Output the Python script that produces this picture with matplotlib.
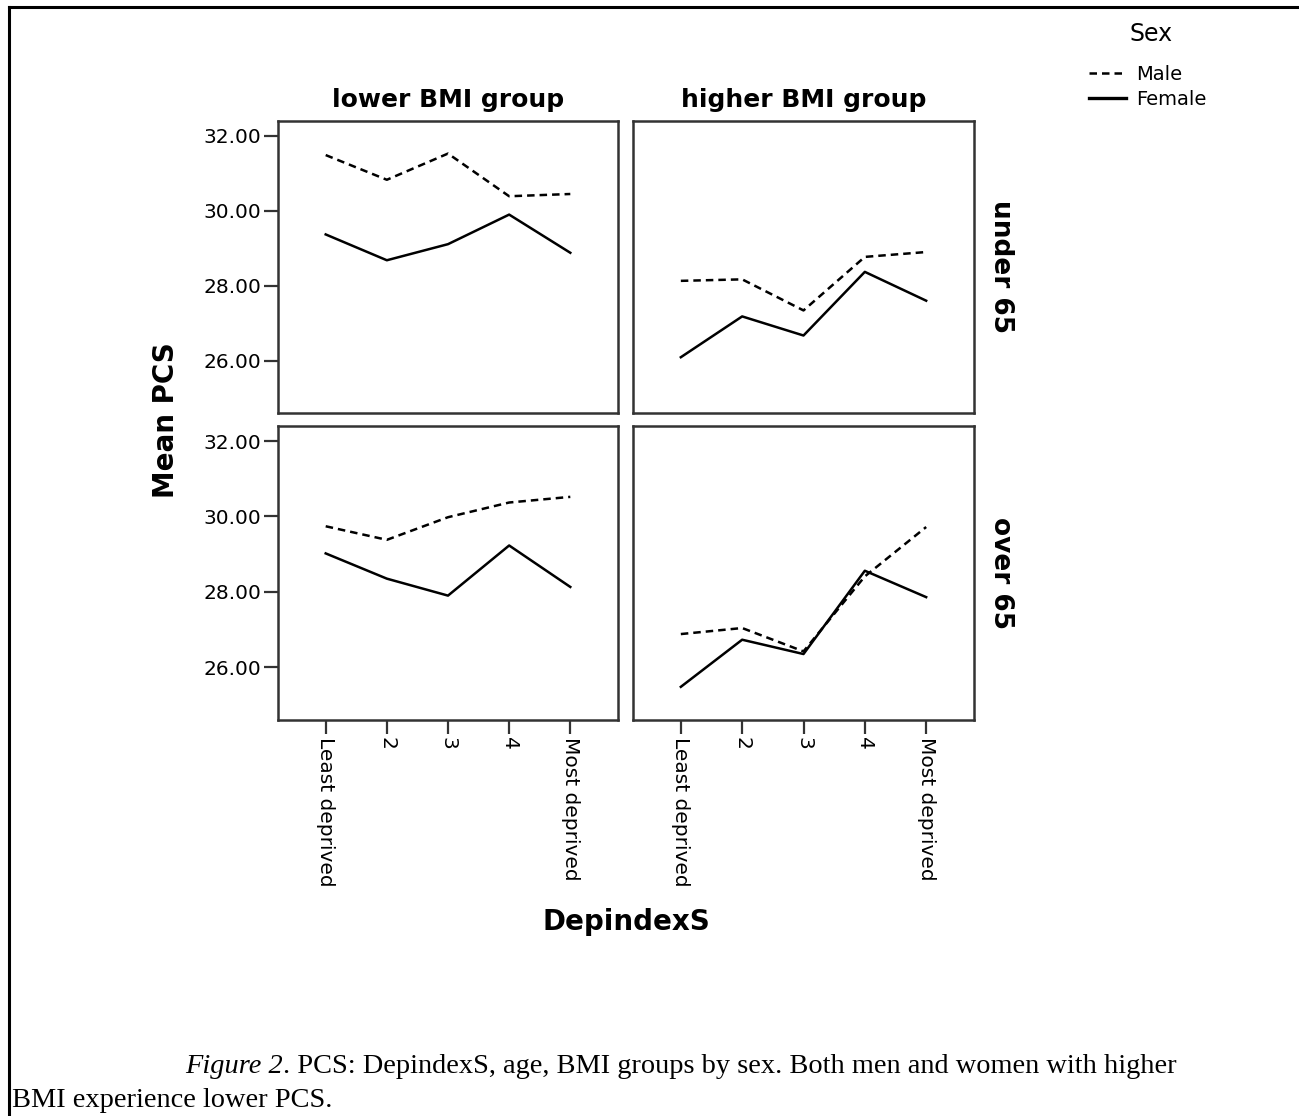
import numpy as np
import matplotlib
matplotlib.use('Agg')
import matplotlib.pyplot as plt
from matplotlib.lines import Line2D

plt.rcParams['font.family'] = 'DejaVu Sans'

categories = ['Least deprived', '2', '3', '4', 'Most deprived']
bmi_groups = ['lower BMI group', 'higher BMI group']
age_groups = ['under 65', 'over 65']
y_ticks = [26, 28, 30, 32]

male_lower_under = [31.49, 30.83, 31.53, 30.39, 30.45]
female_lower_under = [29.37, 28.68, 29.11, 29.90, 28.88]
male_higher_under = [28.13, 28.17, 27.34, 28.77, 28.90]
female_higher_under = [26.09, 27.18, 26.67, 28.37, 27.60]
male_lower_over = [29.74, 29.38, 29.98, 30.37, 30.52]
female_lower_over = [29.02, 28.35, 27.90, 29.23, 28.13]
male_higher_over = [26.88, 27.04, 26.42, 28.41, 29.72]
female_higher_over = [25.48, 26.73, 26.35, 28.56, 27.86]

male = [[male_lower_under, male_higher_under], [male_lower_over, male_higher_over]]
female = [[female_lower_under, female_higher_under], [female_lower_over, female_higher_over]]

W, H = 1299, 1116
fig = plt.figure(figsize=(W / 100, H / 100), dpi=100)

# panel boxes in pixels: left, right, top, bottom
cols = [(278, 618), (633, 974)]
rows = [(121, 413), (426, 720)]

frame_col = '#333333'
x = np.arange(1, len(categories) + 1)

for r in range(2):
    for c in range(2):
        l, rr = cols[c]
        t, b = rows[r]
        ax = fig.add_axes([l / W, 1 - b / H, (rr - l) / W, (b - t) / H])
        ax.plot(x, male[r][c], color='black', lw=1.8, ls=(0, (3, 2)))
        ax.plot(x, female[r][c], color='black', lw=1.8)
        ax.set_xlim(0.22, 5.78)
        ax.set_ylim(24.6, 32.4)
        for s in ax.spines.values():
            s.set_color(frame_col)
            s.set_linewidth(1.8)
        ax.tick_params(direction='out', length=10, width=1.6, color=frame_col,
                       labelsize=14.5, pad=2)
        ax.set_xticks(x)
        ax.set_yticks(y_ticks)
        if r == 1:
            ax.set_xticklabels(categories, rotation=270, va='top', ha='center')
        else:
            ax.tick_params(axis='x', length=0, labelbottom=False)
        if c == 0:
            ax.set_yticklabels(['%.2f' % v for v in y_ticks])
        else:
            ax.tick_params(axis='y', length=0, labelleft=False)
        if r == 0:
            ax.set_title(bmi_groups[c], fontsize=18, fontweight='bold', pad=10)
        if c == 1:
            ax.text(1.04, 0.5, age_groups[r], transform=ax.transAxes, rotation=270,
                    ha='left', va='center', fontsize=19, fontweight='bold')

fig.text(166 / W, 1 - 420 / H, 'Mean PCS', rotation=90, ha='center', va='center',
         fontsize=20, fontweight='bold')
fig.text(626 / W, 1 - 922 / H, 'DepindexS', ha='center', va='center',
         fontsize=20, fontweight='bold')

# legend
fig.text(1151 / W, 1 - 34 / H, 'Sex', ha='center', va='center', fontsize=17)
handles = [Line2D([], [], color='black', lw=1.8, ls=(0, (3, 2))),
           Line2D([], [], color='black', lw=2.4)]
fig.legend(handles, ['Male', 'Female'], loc='upper left',
           bbox_to_anchor=(1089 / W, 1 - 65 / H), frameon=False,
           fontsize=14, handlelength=1.9, handletextpad=0.5,
           labelspacing=0.3, borderpad=0, borderaxespad=0)

# outer border (top and left)
fig.add_artist(Line2D([9 / W, 1], [1 - 7 / H, 1 - 7 / H], color='black', lw=2.2))
fig.add_artist(Line2D([9 / W, 9 / W], [0, 1 - 7 / H], color='black', lw=2.2))

# caption
cap = dict(family='Liberation Serif', fontsize=20.4)
t1 = fig.text(185 / W, 1 - 1073 / H, 'Figure 2', style='italic', va='baseline', **cap)
fig.canvas.draw()
bb = t1.get_window_extent()
fig.text(bb.x1 / W, 1 - 1073 / H,
         '. PCS: DepindexS, age, BMI groups by sex. Both men and women with higher',
         va='baseline', **cap)
fig.text(12 / W, 1 - 1107 / H, 'BMI experience lower PCS.', va='baseline', **cap)

fig.savefig('out.png', dpi=100)
